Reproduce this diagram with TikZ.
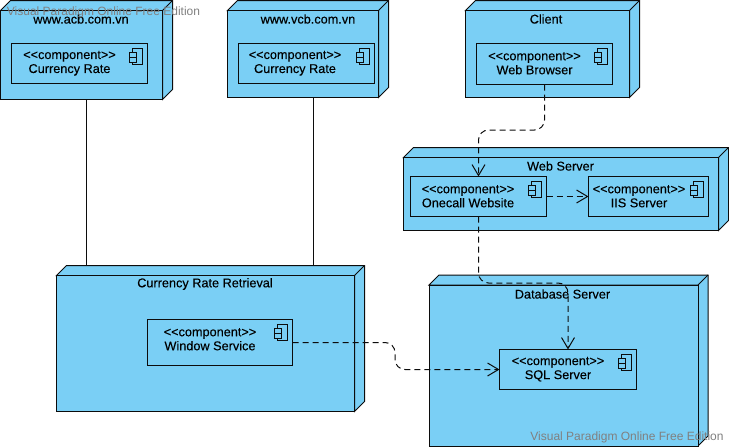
\documentclass[tikz,border=0pt]{standalone}
\usepackage{fontspec}
\setmainfont{Liberation Sans}[FakeBold=0.2]
\newfontfamily\markfont{Liberation Sans}
\usetikzlibrary{arrows.meta}
\definecolor{nodeblue}{HTML}{7ACFF5}
\definecolor{inkline}{HTML}{0C0C0C}
\tikzset{
  x=1pt,y=-1pt,
  every node/.style={font=\fontsize{12.7}{14}\selectfont,text=black,inner sep=0pt,align=center},
  shell/.style={draw=inkline,fill=nodeblue,line width=1pt,line join=miter},
  compbox/.style={draw=inkline,fill=nodeblue,line width=1pt,rectangle},
  dep/.style={draw=inkline,line width=1pt,dash pattern=on 6pt off 4pt,-{Straight Barb[length=11pt,width=13pt,line width=1pt]}},
  link/.style={draw=inkline,line width=1pt},
  mark text/.style={text=black!50,font=\markfont\fontsize{12}{14}\selectfont},
}
% #1 name, #2 left, #3 top, #4 right, #5 bottom of the front face, #6 depth
\newcommand{\solidnode}[6]{%
  \path[shell] (#2,#3) -- ++(#6,-#6) -- (#4+#6,#3-#6) -- (#4+#6,#5-#6) -- (#4,#5) -- (#4,#3) -- cycle;
  \draw[shell] (#4,#3) -- (#4+#6,#3-#6);
  \node[shell,rectangle,anchor=north west,minimum width=#4-#2,minimum height=#5-#3,outer sep=0pt] (#1) at (#2,#3) {};
}
% #1 name, #2 left, #3 top, #4 right, #5 bottom, #6 text centre x
\newcommand{\compnode}[7]{%
  \node[compbox,anchor=north west,minimum width=#4-#2,minimum height=#5-#3,outer sep=0pt] (#1) at (#2,#3) {};
  \node (#1text) at (#6,#3+19.7) {<{}<component>{}>\\#7};
  \draw[inkline,line width=1pt,fill=nodeblue] (#4-15,#3+5) rectangle (#4-5,#3+21);
  \draw[inkline,line width=1pt,fill=nodeblue] (#4-18,#3+9) rectangle (#4-11,#3+14);
  \draw[inkline,line width=1pt,fill=nodeblue] (#4-18,#3+14) rectangle (#4-11,#3+19);
}
\begin{document}
\begin{tikzpicture}
\useasboundingbox (0,0) rectangle (729,447);
\solidnode{acb}{0.5}{10.5}{162.5}{99.5}{10}
\solidnode{vcb}{227.5}{10.5}{378.5}{97.5}{10}
\solidnode{client}{465.5}{10.5}{629.5}{97.5}{10}
\solidnode{web}{403.5}{157.5}{718.5}{230.5}{10}
\solidnode{retr}{56.5}{275.5}{354.5}{411.5}{10}
\solidnode{db}{429}{285}{698}{446}{10}
\node (acbtitle) at (81,19) {www.acb.com.vn};
\node (vcbtitle) at (308,19) {www.vcb.com.vn};
\node (clienttitle) at (546,19) {Client};
\node (webtitle) at (560.5,166) {Web Server};
\node (retrtitle) at (205,284) {Currency Rate Retrieval};
\node (dbtitle) at (562.5,294) {Database Server};
\compnode{rateA}{11.5}{43.5}{147.5}{83.5}{69.5}{Currency Rate}
\compnode{rateB}{238.5}{43.5}{374.5}{83.5}{295}{Currency Rate}
\compnode{browser}{476.5}{43.5}{612.5}{84.5}{534.5}{Web Browser}
\compnode{onecall}{410.5}{176.5}{546.5}{216.5}{468}{Onecall Website}
\compnode{iis}{588.5}{176.5}{708.5}{216.5}{639}{IIS Server}
\compnode{winsvc}{147.5}{319.5}{292.5}{365.5}{210}{Window Service}
\compnode{sql}{499.5}{349.5}{636.5}{389.5}{558}{SQL Server}
\draw[link] (acb.south -| 86,0) -- (86,265);
\draw[link] (vcb.south -| 313,0) -- (313,265);
\draw[dep,rounded corners=10pt] (browser.south) -- (browser.south |- 0,130) -- (onecall.north |- 0,130) -- (onecall.north);
\draw[dep] (onecall.east) -- (iis.west);
\draw[dep,rounded corners=10pt] (onecall.south) -- (onecall.south |- 0,283) -- (sql.north |- 0,283) -- (sql.north);
\draw[dep,rounded corners=10pt] (winsvc.east) -- (395,342.5) -- (395,369.5) -- (sql.west |- 0,369.5);
\node[mark text] (markA) at (103.5,12) {Visual Paradigm Online Free Edition};
\node[mark text] (markB) at (627,437) {Visual Paradigm Online Free Edition};
\end{tikzpicture}
\end{document}
